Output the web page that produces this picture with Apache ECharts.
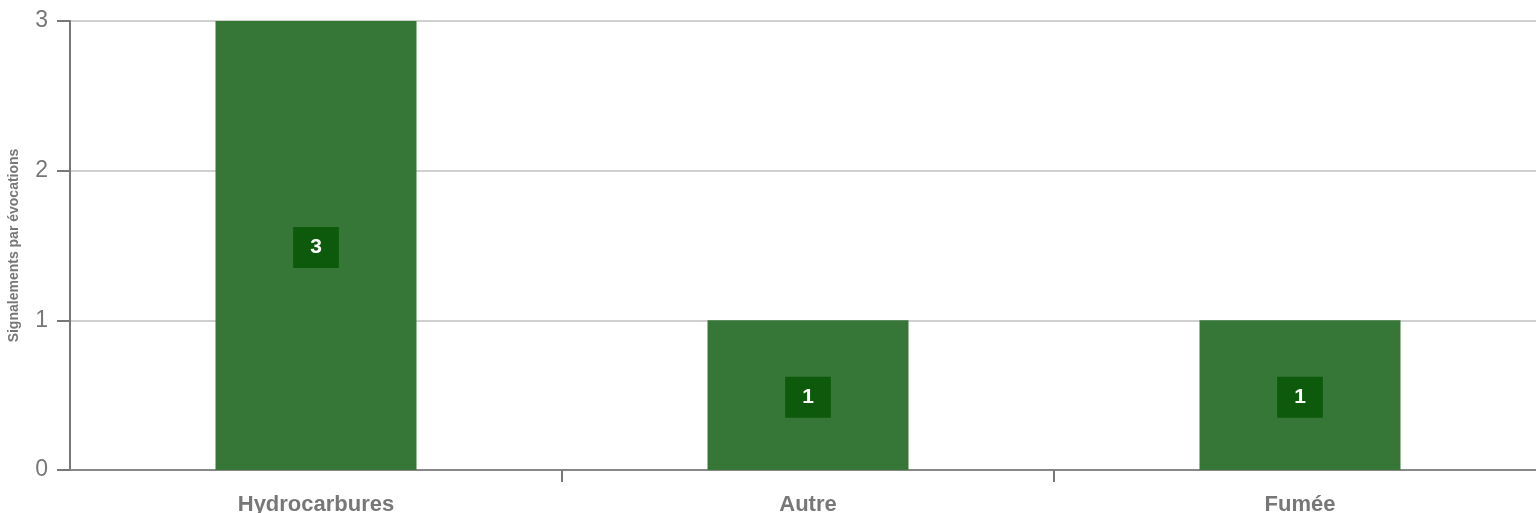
<!DOCTYPE html>
<html>
<head>
<meta charset="utf-8">
<script src="https://cdn.jsdelivr.net/npm/echarts@6/dist/echarts.min.js"></script>
<style>
  html, body { margin: 0; padding: 0; background: #fff; }
  #container { width: 1536px; height: 513px; }
</style>
</head>
<body>
<div id="container"></div>
<script type="text/javascript">
    // données du graphique
    var categories = ['Hydrocarbures', 'Autre', 'Fumée'];
    var values = [3, 1, 1];
    var yTicks = [0, 1, 2, 3];

    var dom = document.getElementById("container");
    var myChart = echarts.init(dom);

    var option = {
        animation: false,
        textStyle: { fontFamily: 'Liberation Sans, Arial, sans-serif' },
        grid: {
            left: 70,
            width: 1476,
            top: 21,
            height: 449,
            containLabel: false,
            outerBoundsMode: 'none'
        },
        xAxis: {
            type: 'category',
            data: categories,
            axisLine: { lineStyle: { color: '#888', width: 2 } },
            axisTick: {
                show: true,
                length: 12,
                interval: function (index) { return index > 0; },
                lineStyle: { color: '#777', width: 2 }
            },
            axisLabel: {
                color: '#777',
                fontSize: 22,
                fontWeight: 'bold',
                margin: 24
            }
        },
        yAxis: {
            type: 'value',
            min: yTicks[0],
            max: yTicks[yTicks.length - 1],
            interval: 1,
            name: 'Signalements par évocations',
            nameLocation: 'middle',
            nameGap: 49,
            nameTextStyle: { color: '#777', fontSize: 14, fontWeight: 'bold' },
            axisLine: { show: true, lineStyle: { color: '#777', width: 2 } },
            axisTick: { show: true, length: 13, lineStyle: { color: '#777', width: 2 } },
            axisLabel: { color: '#777', fontSize: 23, margin: 22 },
            splitLine: { lineStyle: { color: '#d0d0d0', width: 2 } }
        },
        series: [{
            type: 'bar',
            data: values,
            barWidth: 201,
            itemStyle: { color: '#367636' },
            label: {
                show: true,
                position: 'inside',
                offset: [0, 2],
                color: '#fff',
                fontSize: 21,
                fontWeight: 'bold',
                backgroundColor: '#0e5a0c',
                padding: [10, 17]
            }
        }]
    };

    myChart.setOption(option);
</script>
</body>
</html>
